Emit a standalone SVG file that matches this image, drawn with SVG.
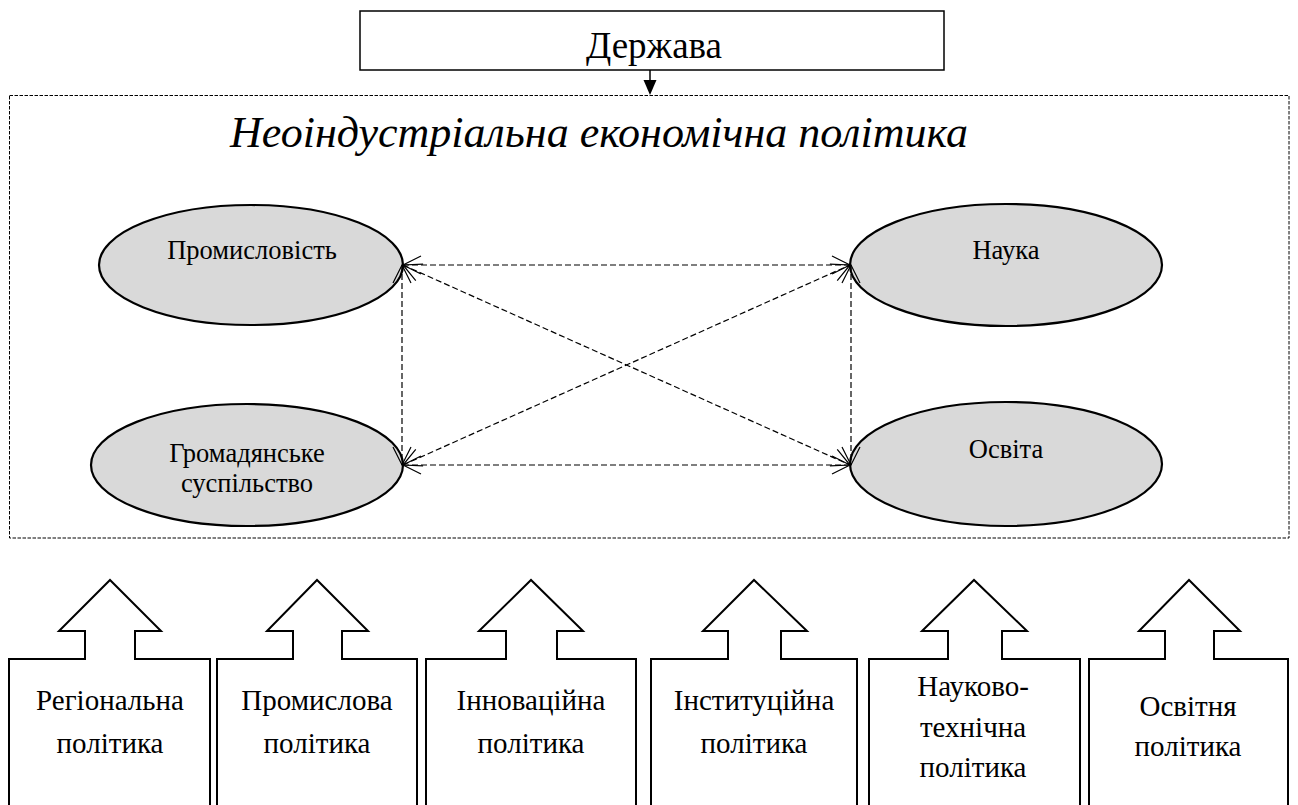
<svg xmlns="http://www.w3.org/2000/svg" width="1298" height="805" viewBox="0 0 1298 805">
<style>
  text { font-family: 'Liberation Serif', 'Times New Roman', Tinos, 'DejaVu Serif', serif; fill: #000; text-anchor: middle; }
  .ell { fill: #d9d9d9; stroke: #000; stroke-width: 2.2; }
  .lbl { font-size: 26.5px; }
  .pol { font-size: 29px; }
  .blk { fill: #fff; stroke: #000; stroke-width: 2; }
  .con { fill: none; stroke: #000; stroke-width: 1.2; stroke-dasharray: 6 3; marker-start: url(#open); marker-end: url(#open); }
</style>
<defs>
  <marker id="open" viewBox="-22 -12 24 24" refX="0" refY="0" markerWidth="24" markerHeight="24" markerUnits="userSpaceOnUse" orient="auto-start-reverse" overflow="visible">
    <path d="M-18,-9 L0,0 L-18,9" fill="none" stroke="#000" stroke-width="1.2"/>
  </marker>
</defs>
<rect width="1298" height="805" fill="#fff"/>

<g id="derzhava">
  <rect x="360" y="11" width="584" height="59" fill="#fff" stroke="#000" stroke-width="1.5"/>
  <text x="654" y="58" style="font-size:37px">Держава</text>
</g>
<g id="derzhava-arrow">
  <line x1="650" y1="70" x2="650" y2="82" stroke="#000" stroke-width="1.5"/>
  <polygon points="643.5,80 656.5,80 650,95" fill="#000"/>
</g>

<g id="frame">
  <rect x="9.5" y="95.5" width="1279.5" height="442.5" fill="none" stroke="#000" stroke-width="1" stroke-dasharray="3.5 1.5"/>
  <text x="599" y="147" style="font-size:44px;font-style:italic">Неоіндустріальна економічна політика</text>
</g>

<g id="promyslovist">
  <ellipse class="ell" cx="251" cy="265" rx="152" ry="60"/>
  <text class="lbl" x="252" y="259">Промисловість</text>
</g>
<g id="hromadianske">
  <ellipse class="ell" cx="247" cy="465" rx="156" ry="61"/>
  <text class="lbl" x="247" y="462">Громадянське</text>
  <text class="lbl" x="247" y="492">суспільство</text>
</g>
<g id="nauka">
  <ellipse class="ell" cx="1006" cy="265" rx="156" ry="61"/>
  <text class="lbl" x="1006" y="259">Наука</text>
</g>
<g id="osvita">
  <ellipse class="ell" cx="1006" cy="464" rx="156" ry="62"/>
  <text class="lbl" x="1006" y="458">Освіта</text>
</g>

<g id="connectors">
  <line class="con" x1="403" y1="265" x2="850" y2="265"/>
  <line class="con" x1="403" y1="465" x2="850" y2="465"/>
  <line class="con" x1="402" y1="265" x2="402" y2="465"/>
  <line class="con" x1="851" y1="265" x2="851" y2="465"/>
  <line class="con" x1="403" y1="265" x2="850" y2="465"/>
  <line class="con" x1="403" y1="465" x2="850" y2="265"/>
</g>

<g id="p1">
  <path class="blk" d="M9,810 L9,659 L85,659 L85,631 L59,631 L110,580 L161,631 L135,631 L135,659 L210,659 L210,810"/>
  <text class="pol" x="110" y="710">Регіональна</text>
  <text class="pol" x="110" y="753">політика</text>
</g>
<g id="p2">
  <path class="blk" d="M217,810 L217,659 L293,659 L293,631 L267,631 L317,580 L368,631 L342,631 L342,659 L417,659 L417,810"/>
  <text class="pol" x="317" y="710">Промислова</text>
  <text class="pol" x="317" y="753">політика</text>
</g>
<g id="p3">
  <path class="blk" d="M426,810 L426,659 L506,659 L506,631 L479,631 L531,580 L583,631 L557,631 L557,659 L636,659 L636,810"/>
  <text class="pol" x="531" y="710">Інноваційна</text>
  <text class="pol" x="531" y="753">політика</text>
</g>
<g id="p4">
  <path class="blk" d="M651,810 L651,659 L728,659 L728,631 L703,631 L754,580 L807,631 L781,631 L781,659 L857,659 L857,810"/>
  <text class="pol" x="754" y="710">Інституційна</text>
  <text class="pol" x="754" y="753">політика</text>
</g>
<g id="p5">
  <path class="blk" d="M869,810 L869,659 L948,659 L948,631 L922,631 L974,580 L1027,631 L1002,631 L1002,659 L1080,659 L1080,810"/>
  <text class="pol" x="973" y="696">Науково-</text>
  <text class="pol" x="973" y="737">технічна</text>
  <text class="pol" x="973" y="777">політика</text>
</g>
<g id="p6">
  <path class="blk" d="M1089,810 L1089,659 L1165,659 L1165,631 L1139,631 L1189,580 L1240,631 L1214,631 L1214,659 L1288,659 L1288,810"/>
  <text class="pol" x="1188" y="716">Освітня</text>
  <text class="pol" x="1188" y="756">політика</text>
</g>
</svg>
